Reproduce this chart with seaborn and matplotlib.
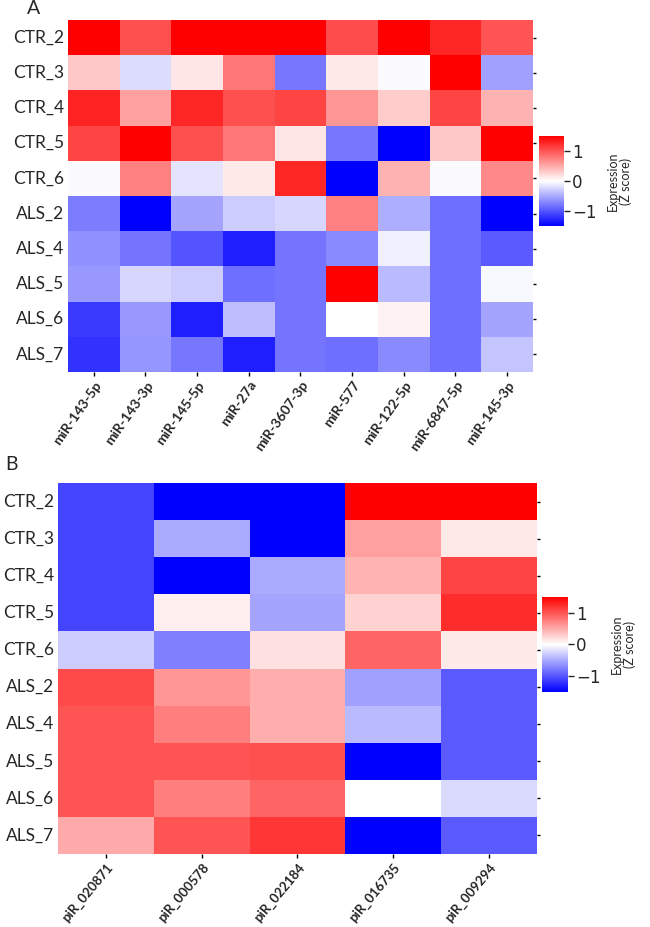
import numpy as np
import pandas as pd
import seaborn as sns
from matplotlib import pyplot as plt

sns.set_style("white")
plt.rcParams['font.family'] = ['Lato', 'DejaVu Sans']

# 样本
samples = ['CTR_2', 'CTR_3', 'CTR_4', 'CTR_5', 'CTR_6',
           'ALS_2', 'ALS_4', 'ALS_5', 'ALS_6', 'ALS_7']

# A: miRNA
mirnas = ['miR-143-5p', 'miR-143-3p', 'miR-145-5p', 'miR-27a', 'miR-3607-3p',
          'miR-577', 'miR-122-5p', 'miR-6847-5p', 'miR-145-3p']
mir_z = [
    [1.5, 1.03, 1.5, 1.5, 1.5, 1.05, 1.5, 1.27, 1.0],
    [0.32, -0.2, 0.15, 0.8, -0.8, 0.12, -0.03, 1.5, -0.56],
    [1.3, 0.56, 1.27, 1.03, 1.1, 0.62, 0.3, 1.1, 0.45],
    [1.1, 1.5, 1.03, 0.8, 0.15, -0.8, -1.5, 0.32, 1.5],
    [-0.03, 0.74, -0.16, 0.12, 1.27, -1.5, 0.45, -0.03, 0.7],
    [-0.77, -1.5, -0.53, -0.3, -0.24, 0.74, -0.47, -0.85, -1.5],
    [-0.65, -0.82, -1.0, -1.32, -0.82, -0.68, -0.09, -0.85, -0.97],
    [-0.6, -0.24, -0.3, -0.85, -0.82, 1.5, -0.41, -0.85, -0.04],
    [-1.15, -0.6, -1.32, -0.38, -0.82, 0.0, 0.08, -0.85, -0.53],
    [-1.2, -0.62, -0.8, -1.32, -0.82, -0.85, -0.68, -0.85, -0.35],
]

# B: piRNA
pirnas = ['piR_020871', 'piR_000578', 'piR_022184', 'piR_016735', 'piR_009294']
pir_z = [
    [-1.09, -1.5, -1.5, 1.5, 1.5],
    [-1.09, -0.5, -1.5, 0.56, 0.14],
    [-1.09, -1.5, -0.5, 0.44, 1.09],
    [-1.09, 0.1, -0.53, 0.26, 1.24],
    [-0.3, -0.74, 0.18, 0.91, 0.12],
    [1.06, 0.62, 0.47, -0.56, -0.97],
    [1.0, 0.76, 0.47, -0.41, -0.97],
    [1.0, 1.0, 1.03, -1.5, -0.97],
    [1.0, 0.76, 0.91, 0.01, -0.22],
    [0.5, 1.0, 1.18, -1.5, -0.97],
]

df_a = pd.DataFrame(mir_z, index=samples, columns=mirnas)
df_b = pd.DataFrame(pir_z, index=samples, columns=pirnas)

fig = plt.figure(figsize=(6.5, 9.27), dpi=100)


def draw(df, ax_rect, cb_rect, letter, letter_xy, xrot, xsize):
    ax = fig.add_axes(ax_rect)
    cax = fig.add_axes(cb_rect)
    sns.heatmap(df, ax=ax, cbar_ax=cax, cmap='bwr', vmin=-1.5, vmax=1.5,
                cbar_kws={'ticks': [-1, 0, 1]})
    ax.yaxis.set_ticks_position('right')
    ax.tick_params(axis='y', left=False, right=True, labelleft=True,
                   labelright=False, length=2, width=1, color='black',
                   labelsize=12.5, pad=1)
    ax.tick_params(axis='x', bottom=True, length=3, width=1, color='black',
                   labelsize=xsize, pad=2)
    for lab in ax.get_yticklabels():
        lab.set_rotation(0)
    for lab in ax.get_xticklabels():
        lab.set_rotation(xrot)
        lab.set_ha('right')
        lab.set_rotation_mode('anchor')
        lab.set_fontweight('bold')
    ax.set_xlabel('')
    ax.set_ylabel('')
    cax.tick_params(labelsize=12, length=4, width=1, pad=2)
    for lab in cax.get_yticklabels():
        lab.set_family('DejaVu Sans')
    cax.set_ylabel('Expression\n(Z score)', fontsize=9, labelpad=7,
                   linespacing=1.1)
    fig.text(letter_xy[0], letter_xy[1], letter, fontsize=14, ha='left',
             va='top')
    return ax


draw(df_a, [0.1046, 0.5987, 0.7154, 0.3797],
     [0.8292, 0.7562, 0.0385, 0.0971], 'A', (0.042, 1.0), 55, 10)
draw(df_b, [0.0892, 0.0787, 0.7369, 0.4002],
     [0.8338, 0.2535, 0.040, 0.1025], 'B', (0.008, 0.508), 50, 9.5)

plt.savefig('out.png', dpi=100)
